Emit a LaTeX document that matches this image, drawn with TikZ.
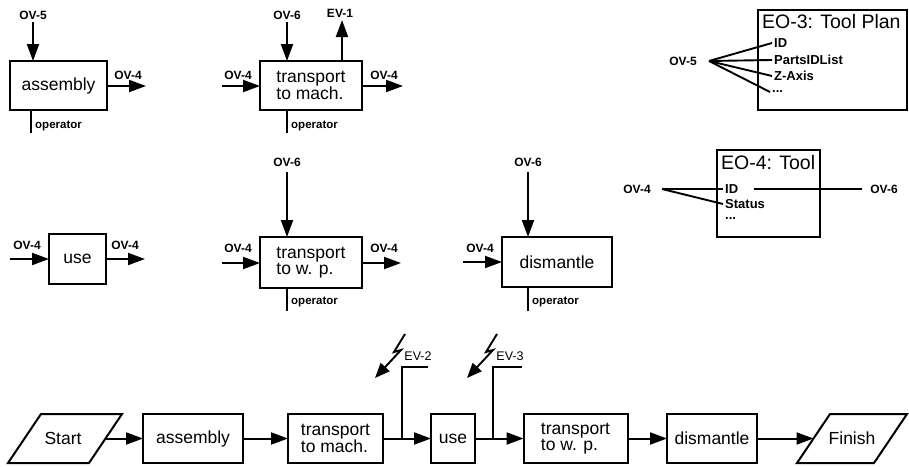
\documentclass[tikz,border=0pt]{standalone}
\usepackage{fontspec}
\setmainfont{Liberation Sans}
\usetikzlibrary{arrows.meta}
\newcommand\mainf{\fontsize{17.5}{16}\selectfont}
\newcommand\lblf{\fontsize{12}{14}\selectfont\bfseries}
\newcommand\opf{\fontsize{11.5}{13}\selectfont\bfseries}
\newcommand\evf{\fontsize{12.5}{14}\selectfont}
\newcommand\eotf{\fontsize{19.5}{22}\selectfont}
\newcommand\eoif{\fontsize{13}{15}\selectfont\bfseries}
\begin{document}
\begin{tikzpicture}[x=1pt,y=-1pt,
 box/.style={draw, line width=2pt, inner sep=0pt, outer sep=0pt, font=\mainf, align=left},
 arr/.style={line width=2pt, -{Triangle[length=17pt,width=12pt]}},
 ln/.style={line width=2pt},
 thin/.style={line width=1.9pt},
 lbl/.style={font=\lblf, inner sep=1pt},
 opl/.style={font=\opf, anchor=west, inner sep=0pt},
 evl/.style={font=\evf, inner sep=1pt},
 eot/.style={font=\eotf, anchor=west, inner sep=0pt},
 eoi/.style={font=\eoif, anchor=west, inner sep=2pt},
 para/.style={line width=2pt, line join=miter},
 ptext/.style={font=\mainf, inner sep=0pt}]
\useasboundingbox (0,0) rectangle (909,466);

% ---------- row 1 : assembly ----------
\node[box, minimum width=97pt, minimum height=49pt] (a1) at (58.5,85.5) {assembly};
\node[lbl] (a1il) at (33,15) {OV-5};
\coordinate (a1s) at (33,22);
\draw[arr] (a1s) -- (a1s |- a1.north);
\coordinate (a1o) at (146,86);
\draw[arr] (a1o -| a1.east) -- (a1o);
\node[lbl] (a1ol) at (128,75) {OV-4};
\coordinate (a1p) at (31,133);
\draw[ln] (a1p |- a1.south) -- (a1p);
\node[opl] (a1pl) at (35,126) {operator};

% ---------- row 1 : transport to mach. ----------
\node[box, minimum width=102pt, minimum height=49pt] (t1) at (311,85.5) {transport\\to mach.};
\coordinate (t1i) at (222,86);
\draw[arr] (t1i) -- (t1i -| t1.west);
\node[lbl] (t1il) at (238,75) {OV-4};
\coordinate (t1o) at (403,86);
\draw[arr] (t1o -| t1.east) -- (t1o);
\node[lbl] (t1ol) at (384,75) {OV-4};
\node[lbl] (t1sl) at (287,15) {OV-6};
\coordinate (t1s) at (287,22);
\draw[arr] (t1s) -- (t1s |- t1.north);
\coordinate (t1e) at (342,20);
\draw[arr] (t1e |- t1.north) -- (t1e);
\node[lbl] (t1el) at (340,13) {EV-1};
\coordinate (t1p) at (287,133);
\draw[ln] (t1p |- t1.south) -- (t1p);
\node[opl] (t1pl) at (291,126) {operator};

% ---------- EO-3 ----------
\node[box, minimum width=149pt, minimum height=100pt, anchor=north west] (eo3) at (758,10) {};
\node[eot] (eo3t) at (762,22) {EO-3: Tool Plan};
\node[eoi] (eo3a) at (772,43) {ID};
\node[eoi] (eo3b) at (772,60) {PartsIDList};
\node[eoi] (eo3c) at (772,76) {Z-Axis};
\node[eoi] (eo3d) at (770,92) {...};
\node[lbl] (ov5) at (683,61) {OV-5};
\coordinate (ov5p) at (709,61);
\draw[thin] (ov5p) -- (eo3a.west);
\draw[thin] (ov5p) -- (eo3b.west);
\draw[thin] (ov5p) -- (eo3c.west);
\draw[thin] (ov5p) -- (eo3d.west);

% ---------- EO-4 ----------
\node[box, minimum width=103pt, minimum height=87pt, anchor=north west] (eo4) at (717,150) {};
\node[eot] (eo4t) at (721,163) {EO-4: Tool};
\node[eoi] (eo4a) at (723,189) {ID};
\node[eoi] (eo4b) at (723,204) {Status};
\node[eoi] (eo4c) at (723,219) {...};
\node[lbl] (ov4) at (637,189) {OV-4};
\coordinate (ov4p) at (662,189);
\draw[thin] (ov4p) -- (eo4a.west);
\draw[thin] (ov4p) -- (eo4b.west);
\coordinate (ov6p) at (862,189);
\draw[thin] (eo4a.east) ++(14,0) -- (ov6p);
\node[lbl] (ov6) at (884,189) {OV-6};

% ---------- row 2 : use ----------
\node[box, minimum width=57pt, minimum height=50pt] (u2) at (77.5,259) {use};
\coordinate (u2i) at (10,259);
\draw[arr] (u2i) -- (u2i -| u2.west);
\node[lbl] (u2il) at (27,245) {OV-4};
\coordinate (u2o) at (145,259);
\draw[arr] (u2o -| u2.east) -- (u2o);
\node[lbl] (u2ol) at (125,245) {OV-4};

% ---------- row 2 : transport to w. p. ----------
\node[box, minimum width=102pt, minimum height=51pt] (t2) at (311,262.5) {transport\\to w. p.};
\coordinate (t2i) at (222,263);
\draw[arr] (t2i) -- (t2i -| t2.west);
\node[lbl] (t2il) at (238,248) {OV-4};
\coordinate (t2o) at (401,263);
\draw[arr] (t2o -| t2.east) -- (t2o);
\node[lbl] (t2ol) at (384,248) {OV-4};
\node[lbl] (t2sl) at (287,162) {OV-6};
\coordinate (t2s) at (287,172);
\draw[arr] (t2s) -- (t2s |- t2.north);
\coordinate (t2p) at (287,311);
\draw[ln] (t2p |- t2.south) -- (t2p);
\node[opl] (t2pl) at (291,302) {operator};

% ---------- row 2 : dismantle ----------
\node[box, minimum width=110pt, minimum height=50pt] (d2) at (557,262) {dismantle};
\coordinate (d2i) at (463,262);
\draw[arr] (d2i) -- (d2i -| d2.west);
\node[lbl] (d2il) at (480,248) {OV-4};
\node[lbl] (d2sl) at (528,162) {OV-6};
\coordinate (d2s) at (528,172);
\draw[arr] (d2s) -- (d2s |- d2.north);
\coordinate (d2p) at (528,311);
\draw[ln] (d2p |- d2.south) -- (d2p);
\node[opl] (d2pl) at (532,302) {operator};

% ---------- row 3 : process chain ----------
\draw[para] (8,463) -- (41,414) -- (122,414) -- (89,463) -- cycle;
\node[ptext] (st) at (63,438.5) {Start};
\coordinate (stE) at (105.5,438.5);
\node[box, minimum width=100pt, minimum height=49pt] (a3) at (193,438.5) {assembly};
\node[box, minimum width=95pt, minimum height=49pt] (t3) at (335.5,438.5) {transport\\to mach.};
\node[box, minimum width=44pt, minimum height=49pt] (u3) at (453,438.5) {use};
\node[box, minimum width=104pt, minimum height=49pt] (t4) at (575.5,438.5) {transport\\to w. p.};
\node[box, minimum width=90pt, minimum height=49pt] (d3) at (712,438.5) {dismantle};
\draw[para] (797,463) -- (830,414) -- (907,414) -- (874,463) -- cycle;
\node[ptext] (fi) at (852,438.5) {Finish};
\coordinate (fiW) at (813.5,438.5);

\draw[arr] (stE) -- (a3);
\draw[arr] (a3) -- (t3);
\draw[arr] (t3) -- (u3);
\draw[arr] (u3) -- (t4);
\draw[arr] (t4) -- (d3);
\draw[arr] (d3) -- (fiW);

% EV-2
\coordinate (b2) at (402,438.5);
\coordinate (e2) at (428,367);
\draw[ln] (b2) |- (e2);
\node[evl] (e2l) at (418,356) {EV-2};
\coordinate (z2a) at (405,334);
\coordinate (z2b) at (394,352);
\coordinate (z2c) at (401,350);
\coordinate (z2d) at (375,378);
\draw[thin, line join=miter, -{Triangle[length=15pt,width=12pt]}] (z2a) -- (z2b) -- (z2c) -- (z2d);

% EV-3
\coordinate (b3) at (493,438.5);
\coordinate (e3) at (522,367);
\draw[ln] (b3) |- (e3);
\node[evl] (e3l) at (510,356) {EV-3};
\coordinate (z3a) at (497,334);
\coordinate (z3b) at (486,352);
\coordinate (z3c) at (493,350);
\coordinate (z3d) at (467,378);
\draw[thin, line join=miter, -{Triangle[length=15pt,width=12pt]}] (z3a) -- (z3b) -- (z3c) -- (z3d);
\end{tikzpicture}
\end{document}
